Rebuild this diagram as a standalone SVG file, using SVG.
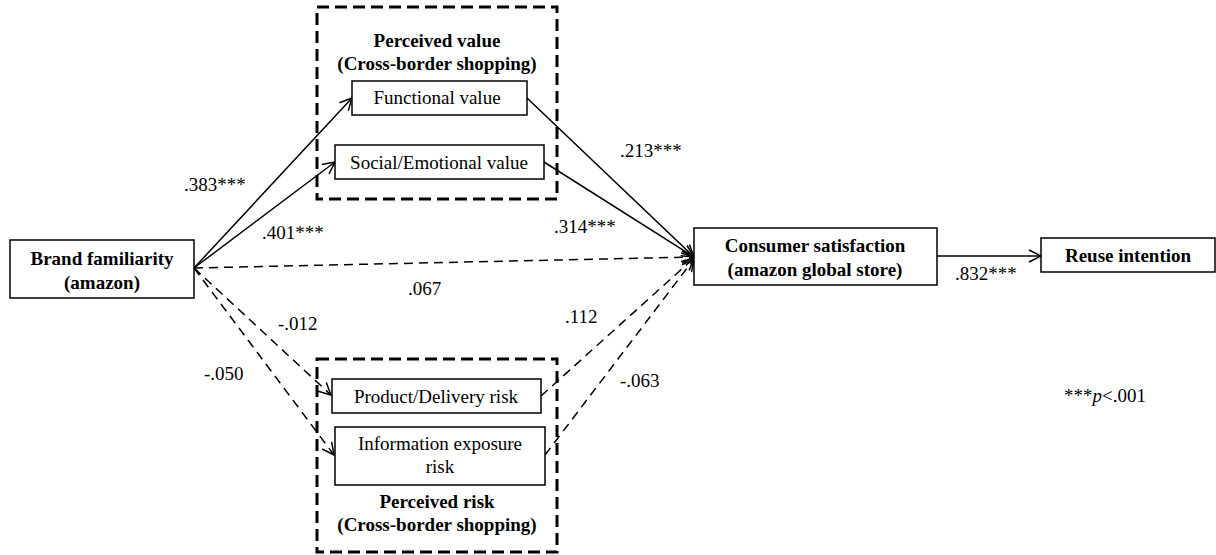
<svg xmlns="http://www.w3.org/2000/svg" width="1216" height="555" viewBox="0 0 1216 555">
<defs>
<marker id="arr" viewBox="0 0 14 14" refX="13" refY="7" markerWidth="14" markerHeight="14" markerUnits="userSpaceOnUse" orient="auto">
<path d="M1,1 L13,7 L1,13" fill="none" stroke="#000" stroke-width="1.5"/>
</marker>
</defs>
<style>
.box{fill:#fff;stroke:#000;stroke-width:1.5}
.grp{fill:none;stroke:#000;stroke-width:3;stroke-dasharray:12 6}
.t{font-family:"Liberation Serif","Times New Roman",serif;font-size:19px;fill:#000;text-anchor:middle}
.b{font-family:"Liberation Serif","Times New Roman",serif;font-size:19px;font-weight:bold;fill:#000;text-anchor:middle}
.lt{font-family:"Liberation Serif","Times New Roman",serif;font-size:19px;fill:#000}
.solid{fill:none;stroke:#000;stroke-width:1.5;marker-end:url(#arr)}
.dash{fill:none;stroke:#000;stroke-width:1.5;stroke-dasharray:9 6;marker-end:url(#arr)}
</style>
<g id="group-value">
<rect class="grp" x="317" y="7" width="240" height="192"/>
<text class="b" x="437" y="47">Perceived value</text>
<text class="b" x="437" y="70">(Cross-border shopping)</text>
</g>
<g id="group-risk">
<rect class="grp" x="317" y="359" width="240" height="193"/>
<text class="b" x="437" y="508">Perceived risk</text>
<text class="b" x="437" y="531">(Cross-border shopping)</text>
</g>
<g id="connectors">
<line class="solid" x1="194" y1="268" x2="352" y2="98"/>
<line class="solid" x1="194" y1="268" x2="335" y2="162"/>
<line class="dash" x1="194" y1="268" x2="694" y2="257"/>
<line class="dash" x1="194" y1="268" x2="331" y2="395"/>
<line class="dash" x1="194" y1="268" x2="334" y2="455"/>
<line class="solid" x1="527" y1="98" x2="694" y2="257"/>
<line class="solid" x1="544" y1="162" x2="694" y2="257"/>
<line class="dash" x1="541" y1="396" x2="694" y2="258"/>
<line class="dash" x1="545" y1="455" x2="694" y2="259"/>
<line class="solid" x1="937" y1="256" x2="1041" y2="256"/>
</g>
<g id="node-brand">
<rect class="box" x="10" y="240" width="184" height="58"/>
<text class="b" x="102" y="265">Brand familiarity</text>
<text class="b" x="102" y="289">(amazon)</text>
</g>
<g id="node-functional">
<rect class="box" x="352" y="81" width="175" height="34"/>
<text class="t" x="437" y="104">Functional value</text>
</g>
<g id="node-social">
<rect class="box" x="335" y="145" width="209" height="34"/>
<text class="t" x="439" y="169">Social/Emotional value</text>
</g>
<g id="node-product">
<rect class="box" x="332" y="379" width="209" height="34"/>
<text class="t" x="436" y="403">Product/Delivery risk</text>
</g>
<g id="node-info">
<rect class="box" x="335" y="427" width="210" height="58"/>
<text class="t" x="440" y="450">Information exposure</text>
<text class="t" x="440" y="473">risk</text>
</g>
<g id="node-satisfaction">
<rect class="box" x="694" y="228" width="243" height="57"/>
<text class="b" x="815" y="252">Consumer satisfaction</text>
<text class="b" x="815" y="276">(amazon global store)</text>
</g>
<g id="node-reuse">
<rect class="box" x="1041" y="238" width="174" height="34"/>
<text class="b" x="1128" y="262">Reuse intention</text>
</g>
<g id="labels">
<text class="lt" x="184" y="191">.383***</text>
<text class="lt" x="262" y="239">.401***</text>
<text class="lt" x="408" y="295">.067</text>
<text class="lt" x="278" y="330">-.012</text>
<text class="lt" x="204" y="380">-.050</text>
<text class="lt" x="620" y="157">.213***</text>
<text class="lt" x="554" y="233">.314***</text>
<text class="lt" x="565" y="323">.112</text>
<text class="lt" x="620" y="387">-.063</text>
<text class="lt" x="955" y="280">.832***</text>
<text class="lt" x="1064" y="402">***<tspan font-style="italic">p</tspan>&lt;.001</text>
</g>
</svg>
